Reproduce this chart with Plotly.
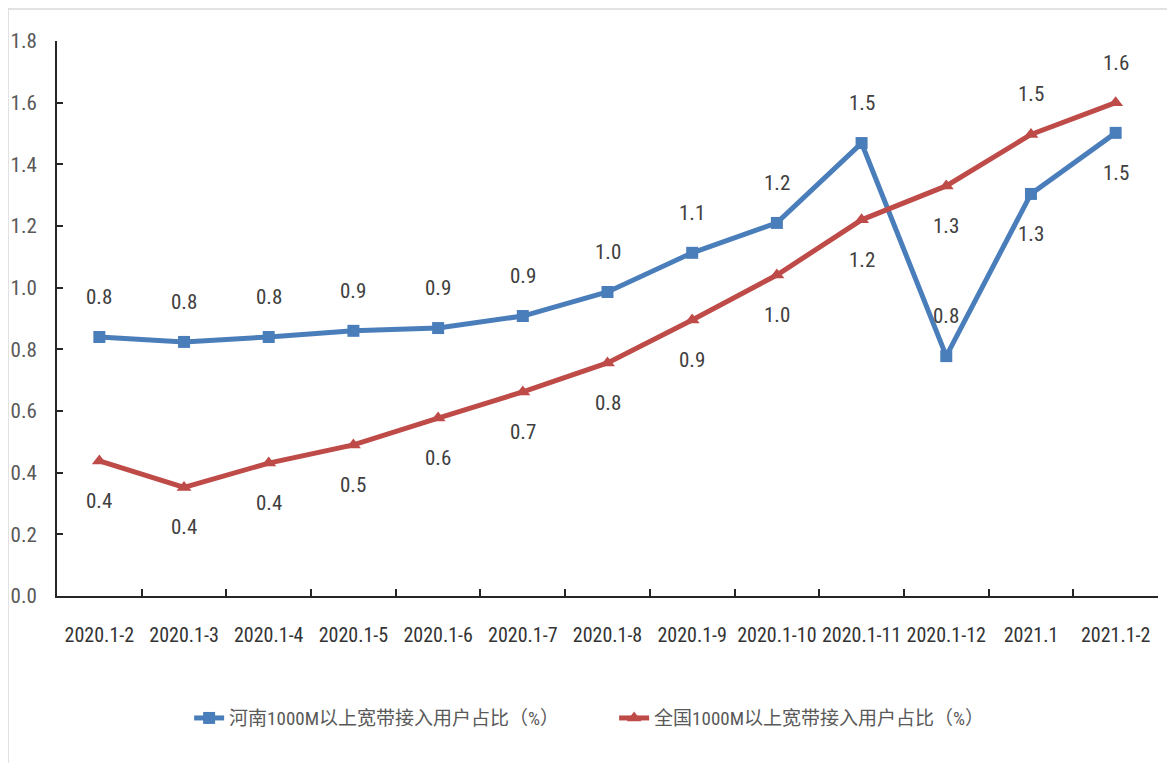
import plotly.graph_objects as go

months = ["2020.1-2", "2020.1-3", "2020.1-4", "2020.1-5", "2020.1-6", "2020.1-7",
          "2020.1-8", "2020.1-9", "2020.1-10", "2020.1-11", "2020.1-12", "2021.1", "2021.1-2"]

henan = [0.84, 0.824, 0.84, 0.86, 0.869, 0.908, 0.986, 1.113, 1.21, 1.469, 0.778, 1.304, 1.502]
national = [0.438, 0.352, 0.431, 0.49, 0.577, 0.662, 0.756, 0.895, 1.041, 1.22, 1.33, 1.497, 1.60]

# label above (+1) or below (-1) the point
henan_side = [1, 1, 1, 1, 1, 1, 1, 1, 1, 1, 1, -1, -1]
national_side = [-1, -1, -1, -1, -1, -1, -1, -1, -1, -1, -1, 1, 1]

BLUE = "#4a7ebb"
RED = "#be4b48"
NARROW = "Roboto Condensed, Noto Sans CJK SC, sans-serif"

fig = go.Figure()
fig.add_trace(go.Scatter(
    x=months, y=henan, mode="lines+markers",
    name="河南1000M以上宽带接入用户占比（%）",
    line=dict(color=BLUE, width=5),
    marker=dict(symbol="square", size=12, color=BLUE),
))
fig.add_trace(go.Scatter(
    x=months, y=national, mode="lines+markers",
    name="全国1000M以上宽带接入用户占比（%）",
    line=dict(color=RED, width=5),
    marker=dict(symbol="triangle-up", size=13, color=RED),
))

# data labels (x given as category index: "2021.1" would otherwise be read as a number)
annotations = []
for series, sides in ((henan, henan_side), (national, national_side)):
    for i, (v, s) in enumerate(zip(series, sides)):
        annotations.append(dict(
            x=i, y=v, text=f"{v:.1f}", showarrow=False,
            yshift=40 * s, font=dict(family=NARROW, size=21, color="#404040"),
        ))

# page body has an 8px margin, so the figure is a bit smaller than the window
PLOT_W, PLOT_H = 1101, 555
fig.update_layout(
    width=1167, height=755,
    margin=dict(l=49, r=17, t=33, b=167),
    paper_bgcolor="white", plot_bgcolor="white",
    showlegend=True,
    legend=dict(
        orientation="h", x=0.12, xanchor="left", y=-0.22, yanchor="middle",
        font=dict(family=NARROW, size=19, color="#595959"),
        entrywidth=380, entrywidthmode="pixels", tracegroupgap=0,
    ),
    annotations=annotations,
    shapes=[
        dict(type="line", xref="paper", yref="paper",
             x0=-49 / PLOT_W, x1=-49 / PLOT_W, y0=-167 / PLOT_H, y1=1 + 33 / PLOT_H,
             line=dict(color="#d9d9d9", width=1.5)),
        dict(type="line", xref="paper", yref="paper",
             x0=-49 / PLOT_W, x1=1 + 17 / PLOT_W, y0=1 + 32 / PLOT_H, y1=1 + 32 / PLOT_H,
             line=dict(color="#d9d9d9", width=1.5)),
    ],
)

fig.update_xaxes(
    type="category", range=[-0.5, len(months) - 0.5], automargin=False,
    showgrid=False, showline=True, linecolor="#262626", linewidth=2,
    ticks="inside", tickson="boundaries", ticklen=7, tickcolor="#262626", tickwidth=2,
    tickfont=dict(family=NARROW, size=20, color="#333333"),
    ticklabelstandoff=20, tickangle=0,
)
fig.update_yaxes(
    range=[0, 1.8], dtick=0.2, tickformat=".1f", showgrid=False, zeroline=False,
    automargin=False, showline=True, linecolor="#262626", linewidth=2,
    ticks="inside", ticklen=6, tickcolor="#262626", tickwidth=2,
    tickfont=dict(family=NARROW, size=21, color="#595959"),
    ticklabelstandoff=14,
)

fig.write_html("out.html")
